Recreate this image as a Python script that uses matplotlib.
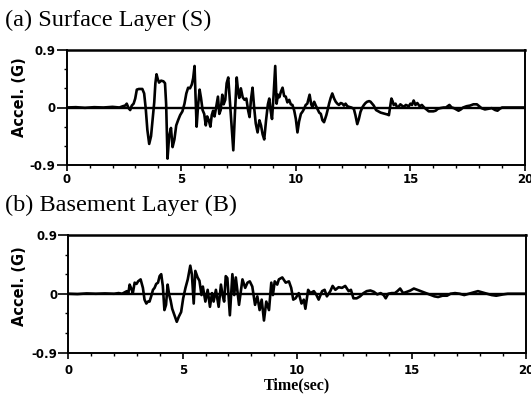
import matplotlib
matplotlib.use("Agg")
import matplotlib.pyplot as plt
from matplotlib.ticker import MultipleLocator

# Surface layer acceleration record (time in s, acceleration in G)
surface_time = [
    0.0, 0.4, 0.8, 1.2, 1.6, 2.0, 2.3, 2.45, 2.55, 2.62,
    2.7, 2.77, 2.84, 2.92, 2.99, 3.06, 3.15, 3.3, 3.38, 3.45,
    3.52, 3.6, 3.68, 3.75, 3.82, 3.87, 3.92, 3.97, 4.03, 4.12,
    4.22, 4.29, 4.34, 4.4, 4.47, 4.55, 4.62, 4.7, 4.78, 4.86,
    4.95, 5.05, 5.14, 5.22, 5.3, 5.38, 5.46, 5.52, 5.58, 5.62,
    5.67, 5.73, 5.8, 5.86, 5.93, 6.0, 6.07, 6.13, 6.2, 6.27,
    6.33, 6.39, 6.45, 6.52, 6.6, 6.66, 6.72, 6.79, 6.85, 6.92,
    6.98, 7.05, 7.12, 7.2, 7.27, 7.34, 7.42, 7.48, 7.53, 7.6,
    7.68, 7.76, 7.84, 7.92, 7.98, 8.04, 8.11, 8.18, 8.25, 8.33,
    8.41, 8.48, 8.55, 8.62, 8.7, 8.78, 8.84, 8.9, 8.96, 9.03,
    9.1, 9.16, 9.22, 9.28, 9.35, 9.42, 9.49, 9.56, 9.63, 9.71,
    9.78, 9.85, 9.93, 10.0, 10.07, 10.14, 10.22, 10.3, 10.36, 10.43,
    10.5, 10.6, 10.67, 10.72, 10.8, 10.87, 10.94, 11.02, 11.09, 11.16,
    11.23, 11.33, 11.4, 11.45, 11.52, 11.59, 11.67, 11.74, 11.81, 11.88,
    11.96, 12.03, 12.1, 12.17, 12.25, 12.32, 12.42, 12.53, 12.6, 12.68,
    12.75, 12.82, 12.9, 12.97, 13.04, 13.11, 13.2, 13.26, 13.33, 13.4,
    13.5, 13.6, 13.7, 13.8, 13.9, 14.0, 14.06, 14.12, 14.17, 14.22,
    14.27, 14.35, 14.42, 14.5, 14.56, 14.63, 14.71, 14.8, 14.93, 15.0,
    15.07, 15.14, 15.22, 15.3, 15.4, 15.5, 15.6, 15.7, 15.8, 15.9,
    16.0, 16.1, 16.2, 16.3, 16.45, 16.55, 16.7, 16.8, 16.9, 17.0,
    17.1, 17.2, 17.3, 17.45, 17.6, 17.75, 17.9, 18.0, 18.1, 18.25,
    18.4, 18.55, 18.7, 18.8, 18.9, 19.0, 19.2, 19.5, 19.8, 20.0,
]
surface_accel = [
    0.0, 0.005, -0.005, 0.005, 0.0, 0.01, 0.0, 0.02, 0.03, 0.06,
    -0.01, -0.04, 0.03, 0.06, 0.14, 0.28, 0.29, 0.29, 0.22, -0.02,
    -0.35, -0.57, -0.45, -0.18, 0.08, 0.38, 0.52, 0.45, 0.39, 0.42,
    0.41, 0.38, 0.05, -0.80, -0.45, -0.32, -0.62, -0.5, -0.28, -0.2,
    -0.12, -0.06, 0.06, 0.22, 0.31, 0.3, 0.36, 0.46, 0.65, 0.2,
    -0.3, 0.02, 0.28, 0.15, -0.04, -0.1, -0.28, -0.14, -0.2, -0.3,
    -0.12, -0.05, -0.14, 0.0, 0.17, -0.1, -0.04, 0.2, 0.05, 0.12,
    0.38, 0.47, 0.1, -0.3, -0.67, -0.1, 0.47, 0.25, 0.15, 0.3,
    0.16, 0.12, 0.14, -0.05, -0.15, 0.12, 0.31, 0.0, -0.25, -0.39,
    -0.2, -0.28, -0.42, -0.5, -0.2, 0.05, 0.14, -0.05, -0.18, 0.2,
    0.65, 0.06, 0.2, 0.16, 0.25, 0.31, 0.18, 0.17, 0.08, 0.12,
    0.05, 0.04, -0.05, -0.18, -0.39, -0.22, -0.1, -0.06, -0.02, 0.04,
    0.06, 0.2, 0.05, 0.01, 0.09, 0.03, -0.02, -0.08, -0.1, -0.2,
    -0.23, -0.12, -0.02, 0.06, 0.15, 0.22, 0.14, 0.09, 0.06, 0.04,
    0.07, 0.06, 0.03, 0.06, 0.02, 0.01, 0.0, -0.02, -0.12, -0.26,
    -0.18, -0.07, 0.0, 0.04, 0.07, 0.09, 0.1, 0.09, 0.06, 0.03,
    -0.04, -0.06, -0.08, -0.09, -0.1, -0.11, -0.12, 0.02, 0.14, 0.1,
    0.04, 0.06, 0.0, 0.02, 0.05, 0.03, 0.01, 0.04, 0.02, 0.06,
    0.04, 0.11, 0.04, 0.07, 0.02, 0.04, 0.0, -0.03, -0.06, -0.06,
    -0.06, -0.05, -0.02, -0.01, 0.0, 0.0, 0.04, 0.0, -0.01, -0.03,
    -0.05, -0.03, 0.0, 0.02, 0.03, 0.05, 0.05, 0.02, -0.01, -0.03,
    -0.02, -0.01, -0.04, -0.05, -0.02, 0.0, 0.0, 0.0, 0.0, 0.0,
]

# Basement layer acceleration record (time in s, acceleration in G)
basement_time = [
    0.0, 0.4, 0.8, 1.2, 1.6, 2.0, 2.2, 2.35, 2.46, 2.56,
    2.62, 2.68, 2.75, 2.82, 2.9, 2.98, 3.05, 3.16, 3.26, 3.33,
    3.41, 3.48, 3.55, 3.63, 3.7, 3.77, 3.84, 3.92, 3.99, 4.06,
    4.13, 4.2, 4.27, 4.34, 4.41, 4.47, 4.54, 4.64, 4.74, 4.83,
    4.93, 5.02, 5.12, 5.22, 5.33, 5.4, 5.48, 5.55, 5.65, 5.73,
    5.82, 5.88, 5.99, 6.09, 6.19, 6.28, 6.35, 6.45, 6.57, 6.67,
    6.74, 6.81, 6.88, 6.95, 7.06, 7.17, 7.25, 7.32, 7.46, 7.61,
    7.73, 7.83, 7.93, 8.04, 8.16, 8.26, 8.36, 8.45, 8.55, 8.65,
    8.77, 8.87, 8.94, 9.02, 9.13, 9.2, 9.35, 9.5, 9.64, 9.74,
    9.83, 9.93, 10.07, 10.19, 10.29, 10.36, 10.48, 10.58, 10.73, 10.83,
    10.94, 11.09, 11.2, 11.3, 11.45, 11.55, 11.67, 11.81, 11.96, 12.1,
    12.25, 12.35, 12.46, 12.6, 12.75, 12.9, 13.04, 13.2, 13.35, 13.5,
    13.65, 13.78, 13.87, 13.98, 14.13, 14.27, 14.38, 14.5, 14.63, 14.8,
    14.95, 15.1, 15.25, 15.4, 15.55, 15.7, 15.85, 16.0, 16.16, 16.35,
    16.55, 16.7, 16.9, 17.1, 17.3, 17.5, 17.7, 17.9, 18.1, 18.3,
    18.5, 18.7, 18.85, 19.0, 19.2, 19.4, 19.6, 19.8, 20.0,
]
basement_accel = [
    0.0, -0.005, 0.005, 0.0, 0.005, 0.0, 0.01, 0.0, 0.02, 0.04,
    0.0, 0.14, 0.08, 0.01, 0.17, 0.15, 0.19, 0.22, 0.09, -0.09,
    -0.15, -0.12, -0.12, -0.03, 0.06, 0.09, 0.15, 0.17, 0.27, 0.3,
    0.12, -0.25, -0.17, 0.14, -0.02, -0.1, -0.23, -0.33, -0.43, -0.35,
    -0.28, -0.07, 0.09, 0.22, 0.43, 0.3, -0.15, 0.35, 0.25, 0.2,
    -0.02, 0.11, -0.12, 0.06, -0.2, 0.01, -0.12, 0.06, -0.2, 0.14,
    -0.02, -0.12, 0.27, 0.24, -0.33, 0.3, -0.02, 0.25, -0.17, 0.22,
    0.09, 0.17, 0.19, 0.11, -0.17, -0.04, -0.25, -0.09, -0.41, -0.12,
    -0.25, 0.17, -0.02, 0.19, 0.14, 0.22, 0.25, 0.17, 0.19, 0.09,
    -0.09, -0.07, 0.01, -0.15, -0.09, -0.23, 0.06, 0.01, 0.04, -0.01,
    -0.09, 0.04, 0.06, -0.04, 0.04, 0.12, 0.06, 0.1, 0.09, 0.12,
    0.04, 0.06, -0.07, -0.07, -0.04, 0.01, 0.04, 0.05, 0.03, -0.01,
    0.01, -0.02, -0.07, 0.0, 0.01, 0.01, 0.04, 0.08, 0.01, 0.03,
    0.05, 0.08, 0.06, 0.04, 0.02, 0.0, -0.02, -0.04, -0.05, -0.03,
    -0.03, 0.0, 0.01, 0.0, -0.02, 0.0, 0.02, 0.04, 0.02, 0.0,
    -0.02, -0.03, -0.02, -0.01, 0.0, 0.0, 0.0, 0.0, 0.0,
]

x_ticks = [0, 5, 10, 15, 20]
x_tick_labels = ["0", "5", "10", "15", "20"]
y_ticks = [-0.9, 0, 0.9]
y_tick_labels = ["-0.9", "0", "0.9"]

panel_titles = ["(a) Surface Layer (S)", "(b) Basement Layer (B)"]
y_label = "Accel. (G)"
x_label = "Time(sec)"

W, H = 531, 394
fig = plt.figure(figsize=(W / 100, H / 100), dpi=100)
fig.patch.set_facecolor("white")


def px_box(left, top, right, bottom):
    return [left / W, 1 - bottom / H, (right - left) / W, (bottom - top) / H]


ax_top = fig.add_axes(px_box(66.7, 50, 525, 165))
ax_bot = fig.add_axes(px_box(68.3, 235, 526, 352.5))


def style_axes(ax, xpad):
    ax.set_xlim(0, 20)
    ax.set_ylim(-0.9, 0.9)
    ax.axhline(0, color="black", lw=1.7, zorder=1)
    ax.set_xticks(x_ticks)
    ax.set_xticklabels(x_tick_labels)
    ax.set_yticks(y_ticks)
    ax.set_yticklabels(y_tick_labels)
    ax.xaxis.set_minor_locator(MultipleLocator(1))
    ax.yaxis.set_minor_locator(MultipleLocator(0.3))
    ax.tick_params(axis="x", which="major", direction="out", length=4,
                   width=1.2, pad=xpad, labelsize=8.5)
    ax.tick_params(axis="x", which="minor", direction="out", length=2.2,
                   width=1.0)
    ax.tick_params(axis="y", which="major", direction="out", length=7,
                   width=1.2, pad=1, labelsize=8.5)
    ax.tick_params(axis="y", which="minor", direction="out", length=2.2,
                   width=1.0)
    for lab in ax.get_xticklabels() + ax.get_yticklabels():
        lab.set_fontweight("bold")
        lab.set_family("DejaVu Sans")
    for s in ax.spines.values():
        s.set_linewidth(1.4)
    ax.spines["top"].set_linewidth(1.8)


ax_top.plot(surface_time, surface_accel, color="black", lw=1.9, zorder=3)
ax_bot.plot(basement_time, basement_accel, color="black", lw=1.9, zorder=3)
style_axes(ax_top, 2.0)
style_axes(ax_bot, 4.5)

title_font = dict(family="Liberation Serif", size=17.5, va="center", ha="left")
fig.text(5 / W, 1 - 20 / H, panel_titles[0], **title_font)
fig.text(5 / W, 1 - 205 / H, panel_titles[1], **title_font)

ylab_font = dict(family="DejaVu Sans", weight="bold", size=10.5,
                 rotation=90, ha="center", va="center")
fig.text(20 / W, 1 - 97 / H, y_label, **ylab_font)
fig.text(20 / W, 1 - 286 / H, y_label, **ylab_font)

fig.text(297 / W, 1 - 385 / H, x_label, family="Liberation Serif",
         weight="bold", size=11.5, ha="center", va="center")

fig.savefig("out.png", dpi=100)
